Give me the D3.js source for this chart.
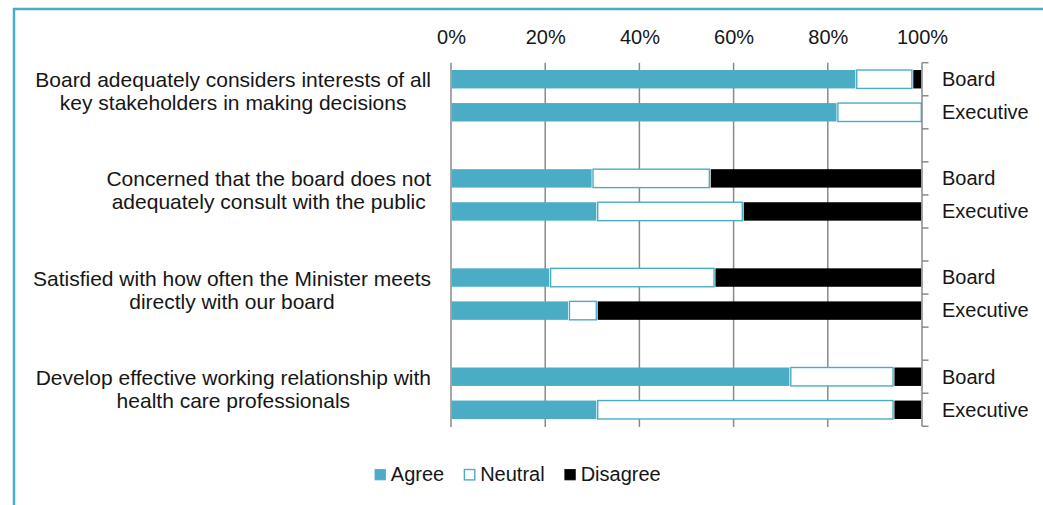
<!DOCTYPE html>
<html>
<head>
<meta charset="utf-8">
<script src="https://cdn.jsdelivr.net/npm/d3@7"></script>
<style>
  html, body { margin: 0; padding: 0; background: #fff; }
  svg { display: block; font-family: "Liberation Sans", Arial, Helvetica, sans-serif; }
</style>
</head>
<body>
<svg id="chart" width="1043" height="505"></svg>
<script>
// Survey statements (wrapped as printed on the left)
const statements = [
  ["Board adequately considers interests of all", "key stakeholders in making decisions"],
  ["Concerned that the board does not", "adequately consult with the public"],
  ["Satisfied with how often the Minister meets", "directly with our board"],
  ["Develop effective working relationship with", "health care professionals"]
];
// Respondent groups, one bar each per statement
const respondents = ["Board", "Executive"];
// Response shares (%), ordered statement by statement: Board, Executive
const agree    = [86, 82, 30, 31, 21, 25, 72, 31];
const neutral  = [12, 18, 25, 31, 35,  6, 22, 63];
const disagree = [ 2,  0, 45, 38, 44, 69,  6,  6];
const responses = ["Agree", "Neutral", "Disagree"];
const percentTicks = [0, 20, 40, 60, 80, 100];

const colors = { Agree: "#4bacc6", Neutral: "#ffffff", Disagree: "#000000" };
const strokes = { Agree: "#4bacc6", Neutral: "#4bacc6", Disagree: "#000000" };
const TEAL = "#4bacc6";
const GRID = "#8a8a8a";
const TEXT = "#161616";

const svg = d3.select("#chart");

// outer frame
svg.append("rect")
  .attr("x", 14).attr("y", 9)
  .attr("width", 1100).attr("height", 600)
  .attr("fill", "none").attr("stroke", TEAL).attr("stroke-width", 2.5);

// one slot per bar, with an empty slot between statements
const slots = [];
statements.forEach((s, i) => {
  respondents.forEach(r => slots.push(i + "|" + r));
  if (i < statements.length - 1) slots.push(i + "|gap");
});

const x = d3.scaleLinear().domain([0, 100]).range([451, 922]);
const slotY = d3.scaleBand().domain(slots).range([62.7, 426.3]).padding(0);
const barY = d3.scaleBand().domain(slots).range([62.7, 426.3])
  .paddingInner(0.4).paddingOuter(0.2);

// rows of stacked data
const rows = [];
statements.forEach((s, i) => {
  respondents.forEach((r, j) => {
    const k = i * respondents.length + j;
    rows.push({ key: i + "|" + r, group: r, Agree: agree[k], Neutral: neutral[k], Disagree: disagree[k] });
  });
});
const stacked = d3.stack().keys(responses)(rows);

// vertical gridlines
svg.append("g").selectAll("line")
  .data(percentTicks.filter(d => d < 100))
  .join("line")
  .attr("x1", d => x(d)).attr("x2", d => x(d))
  .attr("y1", 62.7).attr("y2", 427)
  .attr("stroke", GRID).attr("stroke-width", 1.5);

// stacked bars
svg.append("g").selectAll("g")
  .data(stacked)
  .join("g")
  .attr("fill", d => colors[d.key])
  .attr("stroke", d => strokes[d.key])
  .attr("stroke-width", d => d.key === "Neutral" ? 1.4 : 0)
  .selectAll("rect")
  .data(d => d.filter(p => p[1] - p[0] > 0))
  .join("rect")
  .attr("x", d => x(d[0]) + 0.7)
  .attr("width", d => Math.max(0, x(d[1]) - x(d[0]) - 1.4))
  .attr("y", d => barY(d.data.key) + 0.7)
  .attr("height", barY.bandwidth() - 1.4);

// top percentage axis
const topAxis = svg.append("g")
  .attr("transform", "translate(0,62.7)")
  .call(d3.axisTop(x).tickValues(percentTicks).tickFormat(d => d + "%").tickSize(0).tickPadding(18.7));
topAxis.select(".domain").remove();
topAxis.selectAll("text")
  .attr("font-size", 20).attr("fill", TEXT)
  .attr("font-family", "Liberation Sans, Arial, sans-serif");

// right category axis: line, boundary ticks, group labels
const right = svg.append("g");
right.append("line")
  .attr("x1", x(100)).attr("x2", x(100))
  .attr("y1", slotY.range()[0]).attr("y2", slotY.range()[1])
  .attr("stroke", GRID).attr("stroke-width", 1.5);
const bounds = slots.map(s => slotY(s)).concat([slotY.range()[1]]);
right.selectAll("line.tick")
  .data(bounds)
  .join("line")
  .attr("class", "tick")
  .attr("x1", x(100)).attr("x2", x(100) + 6.5)
  .attr("y1", d => d).attr("y2", d => d)
  .attr("stroke", GRID).attr("stroke-width", 1.5);
right.selectAll("text")
  .data(rows)
  .join("text")
  .attr("x", x(100) + 20)
  .attr("y", d => slotY(d.key) + slotY.bandwidth() / 2 + 6.8)
  .attr("font-size", 20).attr("fill", TEXT)
  .text(d => d.group);

// statement labels, centred lines in a block right-aligned to the plot
const labelRight = 431;
statements.forEach((lines, i) => {
  const cy = slotY(i + "|Board") + slotY.bandwidth() / 2;
  const g = svg.append("g");
  const texts = g.selectAll("text")
    .data(lines)
    .join("text")
    .attr("y", (d, j) => cy + 8 + j * 23)
    .attr("font-size", 21).attr("fill", TEXT)
    .attr("text-anchor", "middle")
    .text(d => d);
  let maxW = 0;
  texts.each(function () { maxW = Math.max(maxW, this.getComputedTextLength()); });
  texts.attr("x", labelRight - maxW / 2);
});

// legend
const legend = svg.append("g");
let lx = 374.3;
responses.forEach(r => {
  const item = legend.append("g");
  item.append("rect")
    .attr("x", lx + 0.7).attr("y", 469.5)
    .attr("width", 10.4).attr("height", 10.4)
    .attr("fill", colors[r]).attr("stroke", strokes[r])
    .attr("stroke-width", r === "Neutral" ? 1.4 : 0.8);
  const t = item.append("text")
    .attr("x", lx + 16.5).attr("y", 480.7)
    .attr("font-size", 20).attr("fill", TEXT)
    .text(r);
  lx += 16.5 + t.node().getComputedTextLength() + 19.5;
});
</script>
</body>
</html>
